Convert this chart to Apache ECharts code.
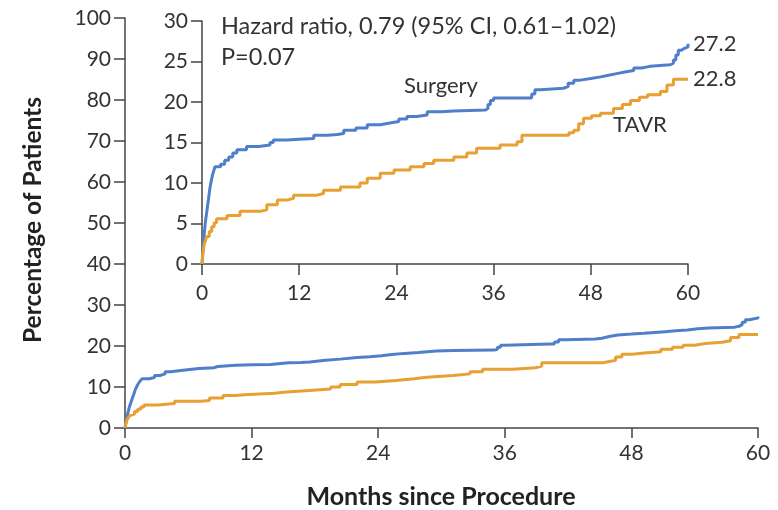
<!DOCTYPE html>
<html><head><meta charset="utf-8">
<script src="https://cdn.jsdelivr.net/npm/echarts@6/dist/echarts.min.js"></script>
<style>html,body{margin:0;padding:0;background:#fff}#c{width:778px;height:510px}</style>
</head><body><div id="c"></div>
<script>
const surgeryMonths = [0,0.1,0.2,0.3,0.4,0.5,0.6,0.7,0.8,0.9,1.0,1.15,1.3,1.45,1.6,2.3,2.8,3.3,3.8,4.3,5.5,7,8.4,8.8,10.5,12,13.8,15.5,16.7,17.5,19,20.4,22,23.2,24.3,25.3,26.5,27.8,29.5,31.1,35,35.3,35.6,36,40.3,40.7,41.1,41.8,44.6,45.2,45.9,46.7,48,49.2,50.2,51.2,52.2,53.3,54.3,55.3,57.8,58.2,58.5,58.8,59.2,59.5,60];
const surgeryPct = [0,1.5,2.8,4,5,5.8,6.5,7.3,8,8.8,9.5,10.3,11,11.5,12,12.3,12.8,13.2,13.7,14.1,14.5,14.7,15,15.3,15.4,15.5,15.9,16.0,16.1,16.5,16.8,17.2,17.4,17.6,17.9,18.2,18.4,18.8,18.9,19.0,19.2,19.7,20.2,20.5,20.5,21.0,21.5,21.7,21.9,22.3,22.7,22.9,23.1,23.3,23.5,23.7,23.9,24.2,24.4,24.6,24.8,25.2,25.8,26.4,26.6,26.8,27.2];
const tavrMonths = [0,0.1,0.2,0.3,0.45,0.6,0.9,1.2,1.5,1.8,3.1,4.7,7.2,8,9.3,10.5,11.3,14.2,15,17.1,19.5,20.4,22,23.7,25.7,27.4,28.6,31.1,32.7,33.9,36.8,38.9,39.5,44.6,45.3,45.9,46.5,47.1,48.1,49.2,50.8,51.9,52.9,54,55,56.6,57.4,58.2,60];
const tavrPct = [0,1.2,2,2.5,3,3.4,4,4.6,5.1,5.6,6.0,6.5,6.7,7.3,7.9,8.1,8.5,8.7,9.1,9.5,10.0,10.6,11.2,11.6,12.0,12.4,12.8,13.2,13.7,14.3,14.7,15.1,15.9,15.9,16.2,16.5,17.3,18.0,18.3,18.6,19.2,19.7,20.2,20.6,20.9,21.3,22.1,22.8,22.8];
const xTicks = [0,12,24,36,48,60];
const mainYTicks = [0,10,20,30,40,50,60,70,80,90,100];
const insetYTicks = [0,5,10,15,20,25,30];
const seriesNames = ['Surgery','TAVR'];
const endValues = ['27.2','22.8'];

const FONT = 'Lato';
const TXT = '#333';
const AX = '#444';
const BLUE = '#4f7fcb';
const ORANGE = '#e8a032';
const zip = (a,b) => a.map((v,i)=>[v,b[i]]);

function xAxisCfg(gi, tickLen, margin){
  return {gridIndex:gi,type:'value',min:0,max:60,interval:12,
    axisLine:{show:true,lineStyle:{color:AX,width:1.5}},
    axisTick:{show:true,length:tickLen,lineStyle:{color:AX,width:1.5}},
    axisLabel:{margin:margin,color:TXT,fontFamily:FONT,fontSize:21,
      formatter:v=>xTicks.includes(v)?String(v):''},
    splitLine:{show:false}};
}
function yAxisCfg(gi, max, interval, ticks){
  return {gridIndex:gi,type:'value',min:0,max:max,interval:interval,
    axisLine:{show:true,lineStyle:{color:AX,width:1.5}},
    axisTick:{show:true,length:11,lineStyle:{color:AX,width:1.5}},
    axisLabel:{margin:14,color:TXT,fontFamily:FONT,fontSize:21,
      formatter:v=>ticks.includes(v)?String(v):''},
    splitLine:{show:false}};
}
function line(name, data, color, gi, endLbl){
  const s = {name, type:'line', xAxisIndex:gi, yAxisIndex:gi, data, step:'end',
    symbol:'none', lineStyle:{color, width:3}, itemStyle:{color}, animation:false, z:3};
  if (endLbl) s.endLabel = {show:true, formatter:endLbl, color:TXT, fontFamily:FONT, fontSize:22, distance:5};
  return s;
}

const chart = echarts.init(document.getElementById('c'), null, {renderer:'canvas'});
chart.setOption({
  backgroundColor:'#fff',
  animation:false,
  grid:[
    {left:125, right:20, top:18, bottom:82},
    {left:202, right:90, top:21, bottom:246}
  ],
  xAxis:[xAxisCfg(0,10,15), xAxisCfg(1,11,19)],
  yAxis:[yAxisCfg(0,100,10,mainYTicks), yAxisCfg(1,30,5,insetYTicks)],
  series:[
    line(seriesNames[0], zip(surgeryMonths,surgeryPct), BLUE, 0),
    line(seriesNames[1], zip(tavrMonths,tavrPct), ORANGE, 0),
    line(seriesNames[0], zip(surgeryMonths,surgeryPct), BLUE, 1, endValues[0]),
    line(seriesNames[1], zip(tavrMonths,tavrPct), ORANGE, 1, endValues[1])
  ],
  graphic:[
    {type:'text', left:221, top:14, style:{text:'Hazard ratio, 0.79 (95% CI, 0.61\u20131.02)', fill:TXT, font:'23.5px '+FONT}},
    {type:'text', left:221, top:45, style:{text:'P=0.07', fill:TXT, font:'23.5px '+FONT}},
    {type:'text', left:404, top:75, style:{text:seriesNames[0], fill:TXT, font:'22px '+FONT}},
    {type:'text', left:613, top:114, style:{text:seriesNames[1], fill:TXT, font:'22px '+FONT}},
    {type:'text', x:441, y:497, style:{text:'Months since Procedure', fill:'#222', font:'bold 25px '+FONT, align:'center', verticalAlign:'middle'}},
    {type:'text', x:33, y:220, rotation:Math.PI/2, style:{text:'Percentage of Patients', fill:'#222', font:'bold 24.5px '+FONT, align:'center', verticalAlign:'middle'}}
  ]
});
</script></body></html>
